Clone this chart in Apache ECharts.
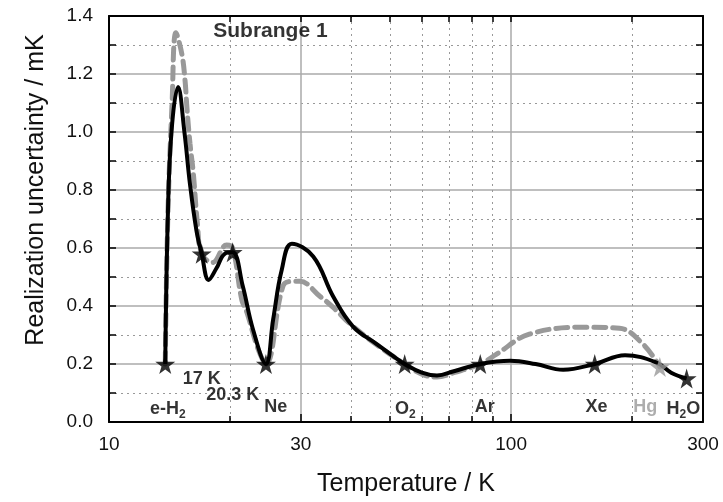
<!DOCTYPE html>
<html>
<head>
<meta charset="utf-8">
<title>Subrange 1</title>
<script src="https://cdn.jsdelivr.net/npm/echarts@6/dist/echarts.min.js"></script>
<style>
  html, body { margin: 0; padding: 0; background: #fff; }
  #chart { width: 723px; height: 502px; }
</style>
</head>
<body>
<div id="chart"></div>
<script>
// solid black curve
const blackT = [13.8, 14.0, 14.3, 14.85, 15.4, 15.9, 16.5, 17.0, 17.7, 18.5, 19.4, 20.3, 21.5, 22.8, 24.56,
  25.6, 26.9, 28.5, 32.2, 36.1, 40.4, 46.4, 50.9, 54.36, 60, 65.4, 72, 83.8, 99.5, 115, 134.7, 161.4, 192, 230, 250, 273.16];
const blackU = [0.20, 0.70, 1.00, 1.155, 1.00, 0.82, 0.66, 0.58, 0.49, 0.53, 0.58, 0.585, 0.47, 0.32, 0.20,
  0.354, 0.526, 0.615, 0.571, 0.433, 0.33, 0.268, 0.227, 0.20, 0.17, 0.16, 0.175, 0.20, 0.211, 0.20, 0.18, 0.20, 0.23, 0.205, 0.17, 0.15];

// grey dashed curve
const greyT = [13.8, 14.0, 14.35, 14.67, 15.17, 15.45, 15.63, 15.9, 16.2, 16.6, 17.0, 18.1, 19.6, 20.3, 21.4, 22.0, 23.5, 24.56,
  27.1, 28.7, 29.8, 33.5, 36.1, 40.4, 47.2, 54.36, 60, 65.4, 72, 83.8, 92, 111, 154, 186, 213, 234.3];
const greyU = [0.20, 0.70, 1.10, 1.342, 1.27, 1.18, 1.08, 0.96, 0.86, 0.68, 0.58, 0.55, 0.61, 0.60, 0.42, 0.38, 0.25, 0.20,
  0.47, 0.485, 0.485, 0.433, 0.395, 0.33, 0.258, 0.20, 0.165, 0.155, 0.17, 0.20, 0.234, 0.303, 0.327, 0.323, 0.268, 0.19];

// fixed points
const starT = [13.8, 17.0, 20.3, 24.56, 54.36, 83.8, 161.4, 273.16];
const starU = [0.20, 0.58, 0.585, 0.20, 0.20, 0.20, 0.20, 0.15];
const hgT = [234.3];
const hgU = [0.19];

// annotation texts
const labelText = ['e-H{s|2}', '17 K', '20.3 K', 'Ne', 'O{s|2}', 'Ar', 'Xe', 'H{s|2}O'];
const labelT = [14.0, 17.0, 20.3, 26.0, 54.6, 86, 163, 268];
const labelU = [0.045, 0.148, 0.092, 0.05, 0.045, 0.05, 0.05, 0.045];
const hgLabelT = [215.6];
const hgLabelU = [0.05];
const titleT = [25.2];
const titleU = [1.348];

const majorX = [10, 30, 100, 300];
const minorX = [20, 40, 50, 60, 70, 80, 90, 200];
const topTicksX = [20, 30, 40, 50, 60, 70, 80, 90, 100, 200];

const zip = (a, b) => a.map((v, i) => [v, b[i]]);

const STAR = 'path://M50,0 L61,35 L98,35 L68,57 L79,91 L50,70 L21,91 L32,57 L2,35 L39,35 Z';
const FONT = 'Liberation Sans, Arial, sans-serif';

const chart = echarts.init(document.getElementById('chart'));

const logAxis = {
  type: 'log',
  logBase: 10,
  min: 10,
  max: 300,
  gridIndex: 0
};

const richSub = {
  s: { fontSize: 12, fontWeight: 'bold', fontFamily: FONT, verticalAlign: 'bottom', padding: [12, 0, 0, 0] }
};

const option = {
  animation: false,
  textStyle: { fontFamily: FONT },
  grid: { left: 109, right: 20, top: 16, bottom: 79 },
  xAxis: [
    Object.assign({}, logAxis, {
      position: 'bottom',
      name: 'Temperature / K',
      nameLocation: 'middle',
      nameGap: 50,
      nameTextStyle: { fontSize: 25, color: '#111', fontFamily: FONT },
      axisLine: { lineStyle: { color: '#000', width: 2 } },
      axisTick: { inside: true, length: 8, customValues: majorX, lineStyle: { color: '#000', width: 1.5 } },
      axisLabel: { customValues: majorX, fontSize: 19, color: '#111', margin: 13 },
      splitLine: { show: true, lineStyle: { color: '#aaa', width: 1.5 } }
    }),
    Object.assign({}, logAxis, {
      position: 'bottom',
      axisLine: { show: false },
      axisTick: { inside: true, length: 6, customValues: minorX, lineStyle: { color: '#000', width: 1.5 } },
      axisLabel: { show: false },
      splitLine: { show: true, lineStyle: { color: '#999', width: 1, type: [2, 4] } }
    }),
    Object.assign({}, logAxis, {
      position: 'top',
      axisLine: { lineStyle: { color: '#000', width: 2 } },
      axisTick: { inside: true, length: 6, customValues: topTicksX, lineStyle: { color: '#000', width: 1.5 } },
      axisLabel: { show: false },
      splitLine: { show: false }
    })
  ],
  yAxis: [
    {
      type: 'value',
      position: 'left',
      min: 0,
      max: 1.4,
      interval: 0.2,
      name: 'Realization uncertainty / mK',
      nameLocation: 'middle',
      nameGap: 60,
      nameTextStyle: { fontSize: 25, color: '#111', fontFamily: FONT, padding: [0, 0, 0, 58] },
      axisLine: { show: true, lineStyle: { color: '#000', width: 2 } },
      axisTick: { show: true, inside: true, length: 7, lineStyle: { color: '#000', width: 1.5 } },
      minorTick: { show: true, splitNumber: 2, length: 7, lineStyle: { color: '#000', width: 1.5 } },
      axisLabel: { fontSize: 19, color: '#111', margin: 16, formatter: v => v.toFixed(1) },
      splitLine: { show: true, lineStyle: { color: '#aaa', width: 1.5 } },
      minorSplitLine: { show: true, lineStyle: { color: '#999', width: 1, type: [2, 4] } }
    },
    {
      type: 'value',
      position: 'right',
      min: 0,
      max: 1.4,
      interval: 0.2,
      axisLine: { show: true, lineStyle: { color: '#000', width: 2 } },
      axisTick: { show: true, inside: true, length: 7, lineStyle: { color: '#000', width: 1.5 } },
      minorTick: { show: true, splitNumber: 2, length: 7, lineStyle: { color: '#000', width: 1.5 } },
      axisLabel: { show: false },
      splitLine: { show: false }
    }
  ],
  series: [
    {
      name: 'grey',
      type: 'line',
      data: zip(greyT, greyU),
      smooth: 0.4,
      showSymbol: false,
      lineStyle: { color: '#999', width: 5, type: [12, 7], cap: 'round' },
      z: 3
    },
    {
      name: 'black',
      type: 'line',
      data: zip(blackT, blackU),
      smooth: 0.4,
      showSymbol: false,
      lineStyle: { color: '#000', width: 4 },
      z: 4
    },
    {
      name: 'hg',
      type: 'scatter',
      data: zip(hgT, hgU),
      symbol: STAR,
      symbolSize: 20,
      itemStyle: { color: '#999' },
      z: 5
    },
    {
      name: 'stars',
      type: 'scatter',
      data: zip(starT, starU),
      symbol: STAR,
      symbolSize: 20,
      itemStyle: { color: '#000' },
      z: 6
    },
    {
      name: 'labels',
      type: 'scatter',
      data: labelT.map((t, i) => ({ value: [t, labelU[i]], text: labelText[i] })),
      symbolSize: 0,
      silent: true,
      label: {
        show: true,
        position: 'inside',
        formatter: p => p.data.text,
        fontSize: 18,
        fontWeight: 'bold',
        color: '#000',
        fontFamily: FONT,
        rich: richSub
      },
      z: 7
    },
    {
      name: 'hgLabel',
      type: 'scatter',
      data: zip(hgLabelT, hgLabelU),
      symbolSize: 0,
      silent: true,
      label: {
        show: true,
        position: 'inside',
        formatter: 'Hg',
        fontSize: 18,
        fontWeight: 'bold',
        color: '#999',
        fontFamily: FONT
      },
      z: 7
    },
    {
      name: 'title',
      type: 'scatter',
      data: zip(titleT, titleU),
      symbolSize: 0,
      silent: true,
      label: {
        show: true,
        position: 'inside',
        formatter: 'Subrange 1',
        fontSize: 21,
        fontWeight: 'bold',
        color: '#000',
        fontFamily: FONT
      },
      z: 7
    }
  ]
};

chart.setOption(option);
</script>
</body>
</html>
